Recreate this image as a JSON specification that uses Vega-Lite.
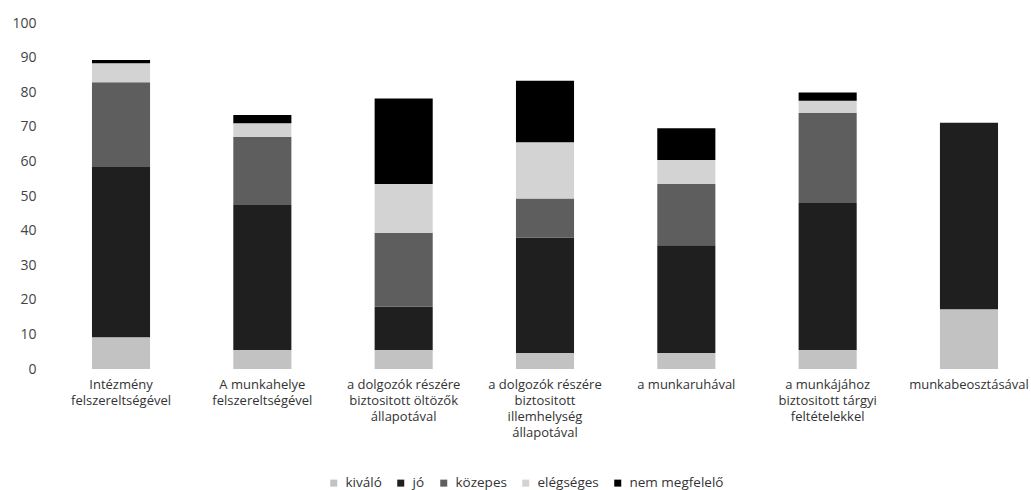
{
  "$schema": "https://vega.github.io/schema/vega-lite/v6.json",
  "autosize": {"type": "none"},
  "padding": {"left": 50, "top": 23, "right": 0, "bottom": 121},
  "width": 990,
  "height": 346,
  "background": "white",
  "config": {"view": {"stroke": null}, "font": "Open Sans"},
  "data": {"values": [
    {"cat": "Intézmény felszereltségével", "grade": "kiváló", "o": 1, "v": 9.2},
    {"cat": "Intézmény felszereltségével", "grade": "jó", "o": 2, "v": 49.2},
    {"cat": "Intézmény felszereltségével", "grade": "közepes", "o": 3, "v": 24.5},
    {"cat": "Intézmény felszereltségével", "grade": "elégséges", "o": 4, "v": 5.5},
    {"cat": "Intézmény felszereltségével", "grade": "nem megfelelő", "o": 5, "v": 0.9},
    {"cat": "A munkahelye felszereltségével", "grade": "kiváló", "o": 1, "v": 5.5},
    {"cat": "A munkahelye felszereltségével", "grade": "jó", "o": 2, "v": 41.9},
    {"cat": "A munkahelye felszereltségével", "grade": "közepes", "o": 3, "v": 19.7},
    {"cat": "A munkahelye felszereltségével", "grade": "elégséges", "o": 4, "v": 3.9},
    {"cat": "A munkahelye felszereltségével", "grade": "nem megfelelő", "o": 5, "v": 2.4},
    {"cat": "a dolgozók részére biztositott öltözők állapotával", "grade": "kiváló", "o": 1, "v": 5.5},
    {"cat": "a dolgozók részére biztositott öltözők állapotával", "grade": "jó", "o": 2, "v": 12.5},
    {"cat": "a dolgozók részére biztositott öltözők állapotával", "grade": "közepes", "o": 3, "v": 21.4},
    {"cat": "a dolgozók részére biztositott öltözők állapotával", "grade": "elégséges", "o": 4, "v": 14.1},
    {"cat": "a dolgozók részére biztositott öltözők állapotával", "grade": "nem megfelelő", "o": 5, "v": 24.7},
    {"cat": "a dolgozók részére biztositott illemhelység állapotával", "grade": "kiváló", "o": 1, "v": 4.6},
    {"cat": "a dolgozók részére biztositott illemhelység állapotával", "grade": "jó", "o": 2, "v": 33.4},
    {"cat": "a dolgozók részére biztositott illemhelység állapotával", "grade": "közepes", "o": 3, "v": 11.3},
    {"cat": "a dolgozók részére biztositott illemhelység állapotával", "grade": "elégséges", "o": 4, "v": 16.2},
    {"cat": "a dolgozók részére biztositott illemhelység állapotával", "grade": "nem megfelelő", "o": 5, "v": 17.8},
    {"cat": "a munkaruhával", "grade": "kiváló", "o": 1, "v": 4.6},
    {"cat": "a munkaruhával", "grade": "jó", "o": 2, "v": 31.2},
    {"cat": "a munkaruhával", "grade": "közepes", "o": 3, "v": 17.7},
    {"cat": "a munkaruhával", "grade": "elégséges", "o": 4, "v": 6.9},
    {"cat": "a munkaruhával", "grade": "nem megfelelő", "o": 5, "v": 9.2},
    {"cat": "a munkájához biztositott tárgyi feltételekkel", "grade": "kiváló", "o": 1, "v": 5.5},
    {"cat": "a munkájához biztositott tárgyi feltételekkel", "grade": "jó", "o": 2, "v": 42.5},
    {"cat": "a munkájához biztositott tárgyi feltételekkel", "grade": "közepes", "o": 3, "v": 26},
    {"cat": "a munkájához biztositott tárgyi feltételekkel", "grade": "elégséges", "o": 4, "v": 3.5},
    {"cat": "a munkájához biztositott tárgyi feltételekkel", "grade": "nem megfelelő", "o": 5, "v": 2.4},
    {"cat": "munkabeosztásával", "grade": "kiváló", "o": 1, "v": 17.3},
    {"cat": "munkabeosztásával", "grade": "jó", "o": 2, "v": 53.9},
    {"cat": "munkabeosztásával", "grade": "közepes", "o": 3, "v": 0},
    {"cat": "munkabeosztásával", "grade": "elégséges", "o": 4, "v": 0},
    {"cat": "munkabeosztásával", "grade": "nem megfelelő", "o": 5, "v": 0}
  ]},
  "mark": {"type": "bar"},
  "encoding": {
    "x": {
      "field": "cat", "type": "nominal", "sort": null,
      "scale": {"paddingInner": 0.589, "paddingOuter": 0.297},
      "axis": {
        "title": null, "labelAngle": 0, "domain": false, "ticks": false,
        "labelPadding": 9, "labelFontSize": 13, "labelColor": "#333333",
        "labelLineHeight": 16, "labelLimit": 200,
        "labelExpr": "datum.value == 'Intézmény felszereltségével' ? ['Intézmény', 'felszereltségével'] : datum.value == 'A munkahelye felszereltségével' ? ['A munkahelye', 'felszereltségével'] : datum.value == 'a dolgozók részére biztositott öltözők állapotával' ? ['a dolgozók részére', 'biztositott öltözők', 'állapotával'] : datum.value == 'a dolgozók részére biztositott illemhelység állapotával' ? ['a dolgozók részére', 'biztositott', 'illemhelység', 'állapotával'] : datum.value == 'a munkájához biztositott tárgyi feltételekkel' ? ['a munkájához', 'biztositott tárgyi', 'feltételekkel'] : datum.value"
      }
    },
    "y": {
      "field": "v", "type": "quantitative", "stack": "zero",
      "scale": {"domain": [0, 100]},
      "axis": {
        "title": null, "values": [0, 10, 20, 30, 40, 50, 60, 70, 80, 90, 100],
        "domain": false, "ticks": false, "grid": false,
        "labelPadding": 14, "labelFontSize": 14, "labelColor": "#444444"
      }
    },
    "color": {
      "field": "grade", "type": "nominal",
      "sort": ["kiváló", "jó", "közepes", "elégséges", "nem megfelelő"],
      "scale": {
        "domain": ["kiváló", "jó", "közepes", "elégséges", "nem megfelelő"],
        "range": ["#c2c2c2", "#1f1f1f", "#5e5e5e", "#d3d3d3", "#000000"]
      },
      "legend": {
        "title": null, "orient": "none", "direction": "horizontal",
        "legendX": 277, "legendY": 453,
        "symbolType": "square", "symbolSize": 49, "symbolStrokeWidth": 0,
        "labelFontSize": 13.5, "labelColor": "#333333", "labelOffset": 5,
        "columnPadding": 12
      }
    },
    "order": {"field": "o", "type": "quantitative"}
  }
}
